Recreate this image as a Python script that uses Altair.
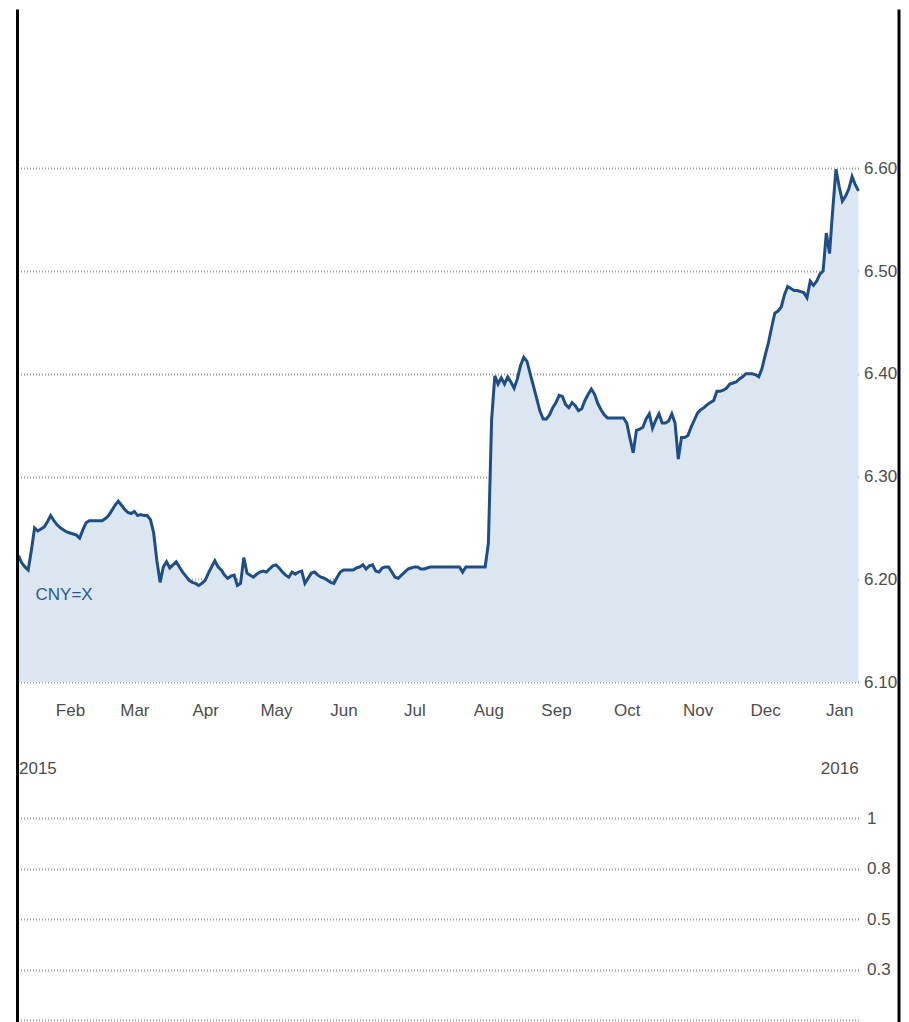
import json
import altair as alt
import numpy as np
import pandas as pd

# ---- data (CNY=X daily close) ----
dates = [
    "2015-01-09", "2015-01-12", "2015-01-13", "2015-01-14", "2015-01-15", "2015-01-16",
    "2015-01-19", "2015-01-20", "2015-01-21", "2015-01-22", "2015-01-23", "2015-01-26",
    "2015-01-27", "2015-01-28", "2015-01-29", "2015-01-30", "2015-02-02", "2015-02-03",
    "2015-02-04", "2015-02-05", "2015-02-06", "2015-02-09", "2015-02-10", "2015-02-16",
    "2015-02-17", "2015-02-18", "2015-02-19", "2015-02-20", "2015-02-23", "2015-02-24",
    "2015-02-25", "2015-02-26", "2015-02-27", "2015-03-02", "2015-03-03", "2015-03-04",
    "2015-03-05", "2015-03-06", "2015-03-09", "2015-03-10", "2015-03-11", "2015-03-12",
    "2015-03-13", "2015-03-16", "2015-03-17", "2015-03-18", "2015-03-19", "2015-03-20",
    "2015-03-23", "2015-03-24", "2015-03-25", "2015-03-26", "2015-03-27", "2015-03-30",
    "2015-03-31", "2015-04-01", "2015-04-02", "2015-04-03", "2015-04-06", "2015-04-07",
    "2015-04-08", "2015-04-09", "2015-04-10", "2015-04-13", "2015-04-14", "2015-04-15",
    "2015-04-16", "2015-04-17", "2015-04-20", "2015-04-21", "2015-04-22", "2015-04-23",
    "2015-04-24", "2015-04-27", "2015-04-28", "2015-04-29", "2015-04-30", "2015-05-01",
    "2015-05-04", "2015-05-05", "2015-05-06", "2015-05-07", "2015-05-08", "2015-05-11",
    "2015-05-12", "2015-05-13", "2015-05-14", "2015-05-15", "2015-05-18", "2015-05-19",
    "2015-05-20", "2015-05-21", "2015-05-22", "2015-05-25", "2015-05-26", "2015-05-27",
    "2015-05-28", "2015-05-29", "2015-06-01", "2015-06-04", "2015-06-05", "2015-06-08",
    "2015-06-09", "2015-06-10", "2015-06-11", "2015-06-12", "2015-06-15", "2015-06-16",
    "2015-06-17", "2015-06-18", "2015-06-19", "2015-06-22", "2015-06-23", "2015-06-24",
    "2015-06-25", "2015-06-26", "2015-06-29", "2015-06-30", "2015-07-01", "2015-07-02",
    "2015-07-03", "2015-07-06", "2015-07-07", "2015-07-08", "2015-07-21", "2015-07-22",
    "2015-07-23", "2015-07-31", "2015-08-03", "2015-08-04", "2015-08-05", "2015-08-06",
    "2015-08-07", "2015-08-10", "2015-08-11", "2015-08-12", "2015-08-13", "2015-08-14",
    "2015-08-17", "2015-08-18", "2015-08-19", "2015-08-20", "2015-08-21", "2015-08-24",
    "2015-08-25", "2015-08-26", "2015-08-27", "2015-08-28", "2015-08-31", "2015-09-01",
    "2015-09-02", "2015-09-03", "2015-09-04", "2015-09-07", "2015-09-08", "2015-09-09",
    "2015-09-10", "2015-09-11", "2015-09-14", "2015-09-15", "2015-09-16", "2015-09-17",
    "2015-09-18", "2015-09-21", "2015-09-22", "2015-09-23", "2015-09-30", "2015-10-01",
    "2015-10-02", "2015-10-05", "2015-10-06", "2015-10-07", "2015-10-08", "2015-10-09",
    "2015-10-12", "2015-10-13", "2015-10-14", "2015-10-15", "2015-10-16", "2015-10-19",
    "2015-10-20", "2015-10-21", "2015-10-22", "2015-10-23", "2015-10-26", "2015-10-27",
    "2015-10-28", "2015-10-29", "2015-10-30", "2015-11-02", "2015-11-03", "2015-11-04",
    "2015-11-05", "2015-11-06", "2015-11-09", "2015-11-10", "2015-11-11", "2015-11-12",
    "2015-11-13", "2015-11-16", "2015-11-17", "2015-11-18", "2015-11-19", "2015-11-20",
    "2015-11-23", "2015-11-24", "2015-11-25", "2015-11-26", "2015-11-27", "2015-11-30",
    "2015-12-01", "2015-12-02", "2015-12-03", "2015-12-04", "2015-12-07", "2015-12-08",
    "2015-12-09", "2015-12-10", "2015-12-11", "2015-12-14", "2015-12-15", "2015-12-16",
    "2015-12-17", "2015-12-18", "2015-12-21", "2015-12-22", "2015-12-23", "2015-12-24",
    "2015-12-25", "2015-12-28", "2015-12-29", "2015-12-30", "2015-12-31", "2016-01-01",
    "2016-01-04", "2016-01-05", "2016-01-06", "2016-01-07", "2016-01-08", "2016-01-11",
]
closes = [
    6.223, 6.216, 6.212, 6.209, 6.228, 6.250,
    6.247, 6.249, 6.251, 6.256, 6.262, 6.257,
    6.253, 6.250, 6.248, 6.246, 6.245, 6.244,
    6.243, 6.240, 6.248, 6.255, 6.257, 6.257,
    6.259, 6.262, 6.267, 6.272, 6.276, 6.272,
    6.268, 6.265, 6.264, 6.266, 6.262, 6.263,
    6.262, 6.262, 6.258, 6.245, 6.218, 6.197,
    6.212, 6.217, 6.211, 6.214, 6.217, 6.212,
    6.207, 6.203, 6.199, 6.197, 6.196, 6.194,
    6.196, 6.199, 6.206, 6.212, 6.218, 6.212,
    6.209, 6.204, 6.201, 6.203, 6.204, 6.194,
    6.196, 6.221, 6.206, 6.204, 6.202, 6.205,
    6.207, 6.208, 6.207, 6.210, 6.213, 6.214,
    6.211, 6.207, 6.204, 6.202, 6.207, 6.205,
    6.207, 6.208, 6.196, 6.201, 6.206, 6.207,
    6.204, 6.202, 6.201, 6.199, 6.197, 6.196,
    6.202, 6.207, 6.209, 6.209, 6.211, 6.212,
    6.214, 6.210, 6.213, 6.214, 6.208, 6.207,
    6.211, 6.212, 6.212, 6.207, 6.202, 6.201,
    6.204, 6.207, 6.210, 6.211, 6.212, 6.212,
    6.210, 6.210, 6.211, 6.212, 6.212, 6.207,
    6.212, 6.212, 6.235, 6.355, 6.398, 6.390,
    6.396, 6.390, 6.397, 6.392, 6.386, 6.395,
    6.408, 6.416, 6.412, 6.400, 6.388, 6.376,
    6.364, 6.356, 6.356, 6.360, 6.367, 6.372,
    6.379, 6.378, 6.370, 6.367, 6.372, 6.369,
    6.364, 6.366, 6.374, 6.380, 6.385, 6.380,
    6.371, 6.365, 6.360, 6.357, 6.357, 6.352,
    6.337, 6.323, 6.345, 6.346, 6.348, 6.356,
    6.361, 6.347, 6.355, 6.361, 6.352, 6.352,
    6.354, 6.361, 6.352, 6.317, 6.338, 6.338,
    6.340, 6.348, 6.355, 6.362, 6.365, 6.367,
    6.370, 6.372, 6.374, 6.383, 6.383, 6.384,
    6.386, 6.390, 6.391, 6.392, 6.395, 6.397,
    6.400, 6.400, 6.400, 6.399, 6.397, 6.405,
    6.418, 6.430, 6.445, 6.459, 6.461, 6.465,
    6.477, 6.485, 6.483, 6.481, 6.481, 6.480,
    6.479, 6.474, 6.490, 6.486, 6.490, 6.497,
    6.500, 6.537, 6.517, 6.560, 6.599, 6.582,
    6.568, 6.573, 6.580, 6.592, 6.584, 6.578,
]

# x-axis tick labels (the axis counts trading days)
tick_dates = ["2015-01-09", "2015-02-02", "2015-03-02", "2015-04-01", "2015-05-01",
              "2015-06-01", "2015-07-01", "2015-08-03", "2015-09-01", "2015-10-01",
              "2015-11-02", "2015-12-01", "2016-01-01"]
tick_labels = [["", "2015"], ["Feb"], ["Mar"], ["Apr"], ["May"], ["Jun"], ["Jul"],
               ["Aug"], ["Sep"], ["Oct"], ["Nov"], ["Dec"], ["Jan", "2016"]]
x_range = ["2015-01-09", "2016-01-11"]

price_ticks = [6.10, 6.20, 6.30, 6.40, 6.50, 6.60]
price_domain = [6.10, 6.756]
volume_ticks = [0, 0.25, 0.5, 0.75, 1]
series_name = "CNY=X"

# ---- build ----
ORIGIN = "2015-01-01"


def tday(d):
    return int(np.busday_count(ORIGIN, d))


df = pd.DataFrame({"date": dates, "close": closes})
df["t"] = [tday(d) for d in dates]
tick_t = [tday(d) for d in tick_dates]
x_dom = [tday(x_range[0]), tday(x_range[1])]

label_expr = "".join(
    f"datum.value == {t} ? {json.dumps(l)} : " for t, l in zip(tick_t, tick_labels)
) + "''"

FONT = "Liberation Sans, Arial, sans-serif"
LABEL_COLOR = "#4d4d4d"
GRID = dict(grid=True, gridDash=[1, 2], gridColor="#9c9c9c", gridWidth=2,
            domain=False, ticks=False, title=None,
            labelFont=FONT, labelFontSize=17, labelColor=LABEL_COLOR)

W = 840
x_scale = alt.Scale(domain=x_dom, nice=False, zero=False)

x_enc = alt.X(
    "t:Q", scale=x_scale,
    axis=alt.Axis(values=tick_t, labelExpr=label_expr, grid=False, domain=False,
                  ticks=False, labelFlush=True, labelPadding=20, labelLineHeight=58,
                  labelFont=FONT, labelFontSize=17, labelColor=LABEL_COLOR,
                  labelOverlap=False, title=None),
)
y_enc = alt.Y(
    "close:Q", scale=alt.Scale(domain=price_domain, nice=False, zero=False),
    axis=alt.Axis(orient="right", values=price_ticks, format=".2f", labelPadding=5, **GRID),
)

base = alt.Chart(df)
area = base.mark_area(color="#dce6f1", opacity=1).encode(
    x=x_enc, y=y_enc, y2=alt.datum(price_domain[0]))
line = base.mark_line(color="#1f4e87", strokeWidth=3).encode(x="t:Q", y="close:Q")

name_df = pd.DataFrame({"name": [series_name]})
name_text = alt.Chart(name_df).mark_text(
    align="left", baseline="middle", font=FONT, fontSize=17, color="#2b5a8f"
).encode(text="name:N", x=alt.value(17), y=alt.value(587))

frame_df = pd.DataFrame({"side": ["left"]})
left_border = alt.Chart(frame_df).mark_rule(color="black", strokeWidth=3).encode(
    x=alt.value(-1), y=alt.value(1.5), y2=alt.value(1014))
right_border = alt.Chart(frame_df).mark_rule(color="black", strokeWidth=3).encode(
    x=alt.value(880.5), y=alt.value(1.5), y2=alt.value(1014))

price = alt.layer(area, line, name_text, left_border, right_border).properties(
    width=W, height=674)

vol_label = "datum.value == 0 ? '' : datum.value == 1 ? '1' : format(datum.value, '.1f')"
volume = alt.Chart(df).mark_point(opacity=0).encode(
    x=alt.X("t:Q", scale=x_scale, axis=None),
    y=alt.YDatum(0, scale=alt.Scale(domain=[0, 1], nice=False),
                 axis=alt.Axis(orient="right", values=volume_ticks, labelExpr=vol_label,
                               labelPadding=8, **GRID)),
).properties(width=W, height=202)

chart = alt.vconcat(price, volume, spacing=136, bounds="flush").configure_view(
    stroke=None
).properties(
    padding={"left": 4.5, "top": 0, "right": 0, "bottom": 0},
    background="white",
)

chart.save("out.html", embed_options={"renderer": "svg", "actions": False})
